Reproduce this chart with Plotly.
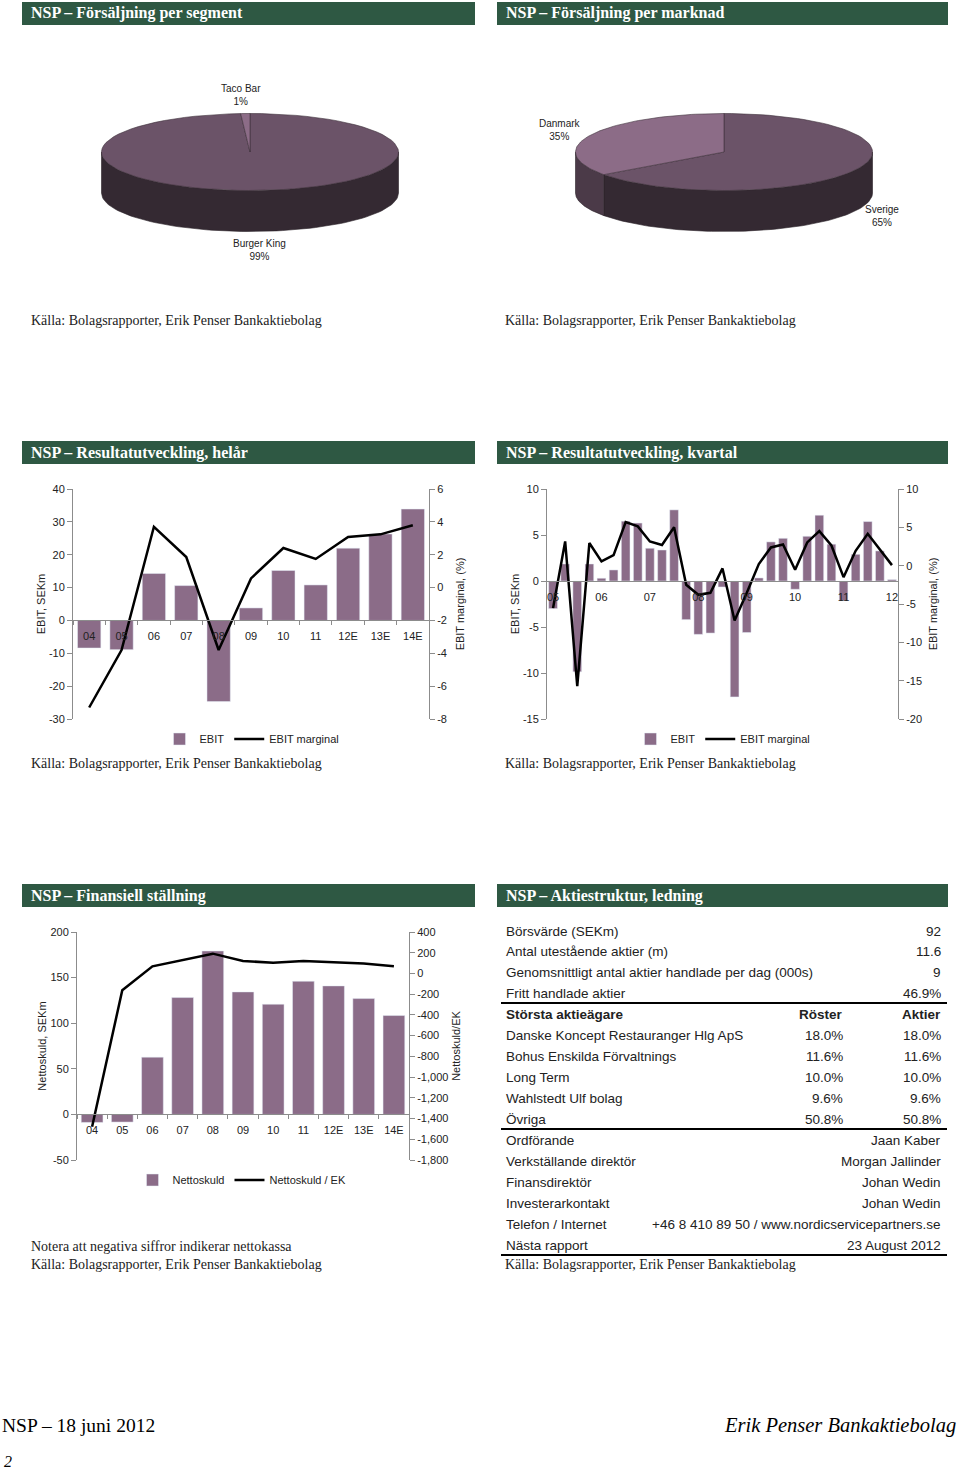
import numpy as np
import plotly.graph_objects as go

W, H = 960, 1469

# ---------------- data ----------------
seg_labels = ["Burger King", "Taco Bar"]
seg_values = [99, 1]
mkt_labels = ["Sverige", "Danmark"]
mkt_values = [65, 35]

years = ["04", "05", "06", "07", "08", "09", "10", "11", "12E", "13E", "14E"]
ebit_year = [-8.4, -8.9, 14.3, 10.6, -24.7, 3.8, 15.2, 10.8, 22.0, 26.3, 33.9]
margin_year = [-7.3, -3.8, 3.7, 1.86, -3.8, 0.56, 2.41, 1.74, 3.08, 3.24, 3.79]

q_years = ["05", "06", "07", "08", "09", "10", "11", "12"]
quarters = [f"Q{q} {y}" for y in q_years for q in (1, 2, 3, 4)][:29]
ebit_q = [-3.0, 1.85, -9.87, 1.85, 0.3, 1.2, 6.5, 6.3, 3.56, 3.37, 7.73, -4.2,
          -5.8, -5.66, -0.65, -12.6, -5.6, 0.33, 4.25, 4.64, -0.9, 4.86, 7.15,
          4.0, -2.14, 2.9, 6.46, 3.27, 0.15]
margin_q = [-5.54, 3.16, -15.7, 2.95, 0.55, 1.38, 5.69, 5.12, 3.16, 2.69, 5.0,
            -2.49, -3.8, -3.54, -0.36, -7.15, -3.58, 0.2, 2.38, 2.77, -0.54,
            3.03, 4.5, 2.64, -1.5, 1.94, 4.16, 2.07, 0.07]

netdebt = [-8.8, -8.4, 62.8, 128.1, 179.2, 134.3, 120.8, 146.0, 140.9, 127.0, 108.4]
netdebt_eq = [-1480, -162, 69, 127, 191, 120, 104, 120, 111, 95, 69]

key_labels = ["Börsvärde (SEKm)", "Antal utestående aktier (m)",
              "Genomsnittligt antal aktier handlade per dag (000s)",
              "Fritt handlade aktier"]
key_values = ["92", "11.6", "9", "46.9%"]
owners = ["Danske Koncept Restauranger Hlg ApS", "Bohus Enskilda Förvaltnings",
          "Long Term", "Wahlstedt Ulf bolag", "Övriga"]
owner_votes = [18.0, 11.6, 10.0, 9.6, 50.8]
owner_shares = [18.0, 11.6, 10.0, 9.6, 50.8]
mgmt_roles = ["Ordförande", "Verkställande direktör", "Finansdirektör",
              "Investerarkontakt", "Telefon / Internet", "Nästa rapport"]
mgmt_names = ["Jaan Kaber", "Morgan Jallinder", "Johan Wedin", "Johan Wedin",
              "+46 8 410 89 50 / www.nordicservicepartners.se", "23 August 2012"]

headers = ["NSP – Försäljning per segment", "NSP – Försäljning per marknad",
           "NSP – Resultatutveckling, helår", "NSP – Resultatutveckling, kvartal",
           "NSP – Finansiell ställning", "NSP – Aktiestruktur, ledning"]
source = "Källa: Bolagsrapporter, Erik Penser Bankaktiebolag"

# ---------------- styles ----------------
GREEN = "#2e5843"
BAR = "#8b6c88"
AXC = "#8c8c8c"
TXT = "#222222"
SANS = "Liberation Sans, Arial, sans-serif"
SERIF = "Liberation Serif, Times New Roman, serif"


def px(x):
    return x / W


def py(y):
    return 1 - y / H


fig = go.Figure()
shapes = []
ann = []

# ---------------- header bars ----------------
hdr_rows = [(2, 25), (441, 464), (884, 907)]
hdr_cols = [(22, 475), (497, 948)]
for i, title in enumerate(headers):
    r0, r1 = hdr_rows[i // 2]
    c0, c1 = hdr_cols[i % 2]
    shapes.append(dict(type="rect", xref="paper", yref="paper",
                       x0=px(c0), x1=px(c1), y0=py(r1), y1=py(r0),
                       fillcolor=GREEN, line=dict(width=0), layer="below"))
    ann.append(dict(text="<b>" + title + "</b>", x=px(c0 + 7), y=py((r0 + r1) / 2),
                    xref="paper", yref="paper", xanchor="left", yanchor="middle",
                    showarrow=False, font=dict(family=SERIF, size=16, color="white")))

# source lines
for (xx, yy) in [(29, 320), (503, 320), (29, 763), (503, 763), (29, 1264), (503, 1264)]:
    ann.append(dict(text=source, x=px(xx), y=py(yy), xref="paper", yref="paper",
                    xanchor="left", yanchor="middle", showarrow=False,
                    font=dict(family=SERIF, size=14, color=TXT)))
ann.append(dict(text="Notera att negativa siffror indikerar nettokassa", x=px(29), y=py(1246),
                xref="paper", yref="paper", xanchor="left", yanchor="middle",
                showarrow=False, font=dict(family=SERIF, size=14, color=TXT)))

# ---------------- 3D pies ----------------
PIE_TOP, PIE_BOT = 90, 260


def arc(cx, cy, rx, ry, a0, a1, dy=0.0, n=80):
    t = np.radians(np.linspace(a0, a1, n))
    return cx + rx * np.sin(t), cy - ry * np.cos(t) + dy


def pie3d(values, top_cols, side_cols, cx, cy=152, rx=148.5, ry=38.5, depth=41):
    total = float(sum(values))
    bounds = np.cumsum([0] + list(values)) / total * 360.0
    traces = []
    # sides (front half only: 90..270 deg clockwise from top)
    for k in range(len(values)):
        a0, a1 = bounds[k], bounds[k + 1]
        b0, b1 = max(a0, 90), min(a1, 270)
        if b1 > b0:
            xt, yt = arc(cx, cy, rx, ry, b0, b1)
            xb, yb = arc(cx, cy, rx, ry, b0, b1, dy=depth)
            xs = list(xt) + list(xb[::-1]) + [xt[0]]
            ys = list(yt) + list(yb[::-1]) + [yt[0]]
            traces.append(go.Scatter(x=xs, y=ys, fill="toself", fillcolor=side_cols[k],
                                     mode="lines", line=dict(color="#2a2128", width=0.6),
                                     xaxis="x7", yaxis="y7", hoverinfo="skip",
                                     showlegend=False))
    for k in range(len(values)):
        a0, a1 = bounds[k], bounds[k + 1]
        xt, yt = arc(cx, cy, rx, ry, a0, a1)
        xs = [cx] + list(xt) + [cx]
        ys = [cy] + list(yt) + [cy]
        traces.append(go.Scatter(x=xs, y=ys, fill="toself", fillcolor=top_cols[k],
                                 mode="lines", line=dict(color="#3e313b", width=0.6),
                                 xaxis="x7", yaxis="y7", hoverinfo="skip",
                                 showlegend=False))
    return traces


for tr in pie3d(seg_values, ["#6b5368", "#8c6c87"], ["#342932", "#4b3a48"], cx=250):
    fig.add_trace(tr)
for tr in pie3d(mkt_values, ["#6b5368", "#8c6c87"], ["#342932", "#4b3a48"], cx=724):
    fig.add_trace(tr)

pie_lbl = [(f"{seg_labels[1]}<br>{seg_values[1]}%", 241, 95),
           (f"{seg_labels[0]}<br>{seg_values[0]}%", 259, 250),
           (f"{mkt_labels[1]}<br>{mkt_values[1]}%", 560, 130),
           (f"{mkt_labels[0]}<br>{mkt_values[0]}%", 882, 216)]
for t, xx, yy in pie_lbl:
    ann.append(dict(text=t, x=px(xx), y=py(yy), xref="paper", yref="paper",
                    xanchor="center", yanchor="middle", showarrow=False,
                    font=dict(family=SANS, size=10, color=TXT)))

# ---------------- bar/line charts ----------------


def zero_pos(rng, top_px, bot_px):
    frac = (0 - rng[0]) / (rng[1] - rng[0])
    return py(bot_px) + frac * (py(top_px) - py(bot_px))


tickf = dict(family=SANS, size=11, color=TXT)
titf = dict(family=SANS, size=11, color=TXT)


def yax(rng, dtick, top, bot, title, side="left", overlay=None, anchor="x", comma=False,
        standoff=6):
    vals = list(range(rng[0], rng[1] + 1, dtick))
    txt = [f"{v:,}" if comma else str(v) for v in vals]
    d = dict(domain=[py(bot), py(top)], range=rng, tickvals=vals, ticktext=txt,
             showline=True, linecolor=AXC, linewidth=1, ticks="outside", ticklen=5,
             tickcolor=AXC, showgrid=False, zeroline=False, tickfont=tickf, side=side,
             anchor=anchor, title=dict(text=title, font=titf, standoff=standoff),
             automargin=False)
    if overlay:
        d["overlaying"] = overlay
    return d


# chart 1: helår
r1, r2 = [-30, 40], [-8, 6]
fig.add_trace(go.Bar(x=years, y=ebit_year, marker_color=BAR, width=0.72, name="EBIT",
                     xaxis="x", yaxis="y", legend="legend"))
fig.add_trace(go.Scatter(x=years, y=margin_year, mode="lines", name="EBIT marginal",
                         line=dict(color="black", width=2.5), xaxis="x", yaxis="y2",
                         legend="legend"))
# chart 2: kvartal
r3, r4 = [-15, 10], [-20, 10]
fig.add_trace(go.Bar(x=quarters, y=ebit_q, marker_color=BAR, width=0.72, name="EBIT",
                     xaxis="x3", yaxis="y3", legend="legend2"))
fig.add_trace(go.Scatter(x=quarters, y=margin_q, mode="lines", name="EBIT marginal",
                         line=dict(color="black", width=2.5), xaxis="x3", yaxis="y4",
                         legend="legend2"))
# chart 3: finans
r5, r6 = [-50, 200], [-1800, 400]
fig.add_trace(go.Bar(x=years, y=netdebt, marker_color=BAR, width=0.72, name="Nettoskuld",
                     xaxis="x5", yaxis="y5", legend="legend3"))
fig.add_trace(go.Scatter(x=years, y=netdebt_eq, mode="lines", name="Nettoskuld / EK",
                         line=dict(color="black", width=2.5), xaxis="x5", yaxis="y6",
                         legend="legend3"))

xcommon = dict(type="category", showline=True, linecolor=AXC, linewidth=1,
               showgrid=False, zeroline=False, tickfont=tickf, anchor="free",
               automargin=False)

leg = dict(orientation="h", xanchor="center", yanchor="middle",
           font=dict(family=SANS, size=11, color=TXT), bgcolor="rgba(0,0,0,0)",
           itemwidth=30)

layout = dict(
    width=W, height=H, margin=dict(l=0, r=0, t=0, b=0),
    paper_bgcolor="white", plot_bgcolor="rgba(0,0,0,0)",
    showlegend=True,
    xaxis=dict(**xcommon, domain=[px(73), px(429)], range=[-0.5, 10.5],
               position=zero_pos(r1, 489, 719), ticks="outside", tickson="boundaries",
               ticklen=4, tickcolor=AXC, ticklabelstandoff=5),
    yaxis=yax(r1, 10, 489, 719, "EBIT, SEKm", standoff=1),
    yaxis2=yax(r2, 2, 489, 719, "EBIT marginal, (%)", side="right", overlay="y", standoff=10),
    xaxis3=dict(**xcommon, domain=[px(547), px(898)], range=[-0.5, 28.5],
                position=zero_pos(r3, 489, 719), ticks="", ticklabelstandoff=6,
                tickvals=[quarters[i] for i in range(0, 29, 4)], ticktext=q_years),
    yaxis3=yax(r3, 5, 489, 719, "EBIT, SEKm", anchor="x3", standoff=1),
    yaxis4=yax(r4, 5, 489, 719, "EBIT marginal, (%)", side="right", overlay="y3",
               anchor="x3", standoff=8),
    xaxis5=dict(**xcommon, domain=[px(77), px(409)], range=[-0.5, 10.5],
                position=zero_pos(r5, 932, 1160), ticks="outside", tickson="boundaries",
                ticklen=4, tickcolor=AXC, ticklabelstandoff=5),
    yaxis5=yax(r5, 50, 932, 1160, "Nettoskuld, SEKm", anchor="x5", standoff=1),
    yaxis6=yax(r6, 200, 932, 1160, "Nettoskuld/EK", side="right", overlay="y5",
               anchor="x5", comma=True, standoff=4),
    xaxis7=dict(domain=[0, 1], range=[0, W], visible=False, fixedrange=True),
    yaxis7=dict(domain=[py(PIE_BOT), py(PIE_TOP)], range=[PIE_BOT, PIE_TOP],
                visible=False, fixedrange=True, anchor="x7"),
    legend=dict(**leg, x=px(252), y=py(739)),
    legend2=dict(**leg, x=px(723), y=py(739)),
    legend3=dict(**leg, x=px(242), y=py(1180)),
)

# ---------------- table ----------------
TF = dict(family=SANS, size=13.5, color=TXT)
LX, RX, MX = 504, 943, 845
ROW = 20.95


def tcell(text, x, y, anchor, font=TF):
    ann.append(dict(text=text, x=px(x), y=py(y), xref="paper", yref="paper",
                    xanchor=anchor, yanchor="middle", showarrow=False, font=font))


y0 = 931
for i, (lab, val) in enumerate(zip(key_labels, key_values)):
    yy = y0 + i * ROW
    tcell(lab, LX, yy, "left")
    tcell(val, RX, yy, "right")
yy = y0 + 4 * ROW
tcell("<b>Största aktieägare</b>", LX, yy, "left")
tcell("<b>Röster</b>", MX, yy, "right")
tcell("<b>Aktier</b>", RX, yy, "right")
for i, (o, v, s) in enumerate(zip(owners, owner_votes, owner_shares)):
    yy = y0 + (5 + i) * ROW
    tcell(o, LX, yy, "left")
    tcell(f"{v:.1f}%", MX, yy, "right")
    tcell(f"{s:.1f}%", RX, yy, "right")
for i, (r, n) in enumerate(zip(mgmt_roles, mgmt_names)):
    yy = y0 + (10 + i) * ROW
    tcell(r, LX, yy, "left")
    tcell(n, RX, yy, "right")
for ly in (1003, 1129, 1255):
    shapes.append(dict(type="line", xref="paper", yref="paper", x0=px(501), x1=px(947),
                       y0=py(ly), y1=py(ly), line=dict(color="black", width=2)))

# ---------------- footer ----------------
ann.append(dict(text="NSP – 18 juni 2012", x=px(0), y=py(1425), xref="paper", yref="paper",
                xanchor="left", yanchor="middle", showarrow=False,
                font=dict(family=SERIF, size=19.5, color="black")))
ann.append(dict(text="<i>Erik Penser Bankaktiebolag</i>", x=px(958), y=py(1425),
                xref="paper", yref="paper", xanchor="right", yanchor="middle",
                showarrow=False, font=dict(family=SERIF, size=20.5, color="black")))
ann.append(dict(text="<i>2</i>", x=px(2), y=py(1461), xref="paper", yref="paper",
                xanchor="left", yanchor="middle", showarrow=False,
                font=dict(family=SERIF, size=16, color="black")))

layout["shapes"] = shapes
layout["annotations"] = ann
fig.update_layout(**layout)

fig.write_html("out.html", post_script="document.body.style.margin='0';",
               config={"displayModeBar": False})
